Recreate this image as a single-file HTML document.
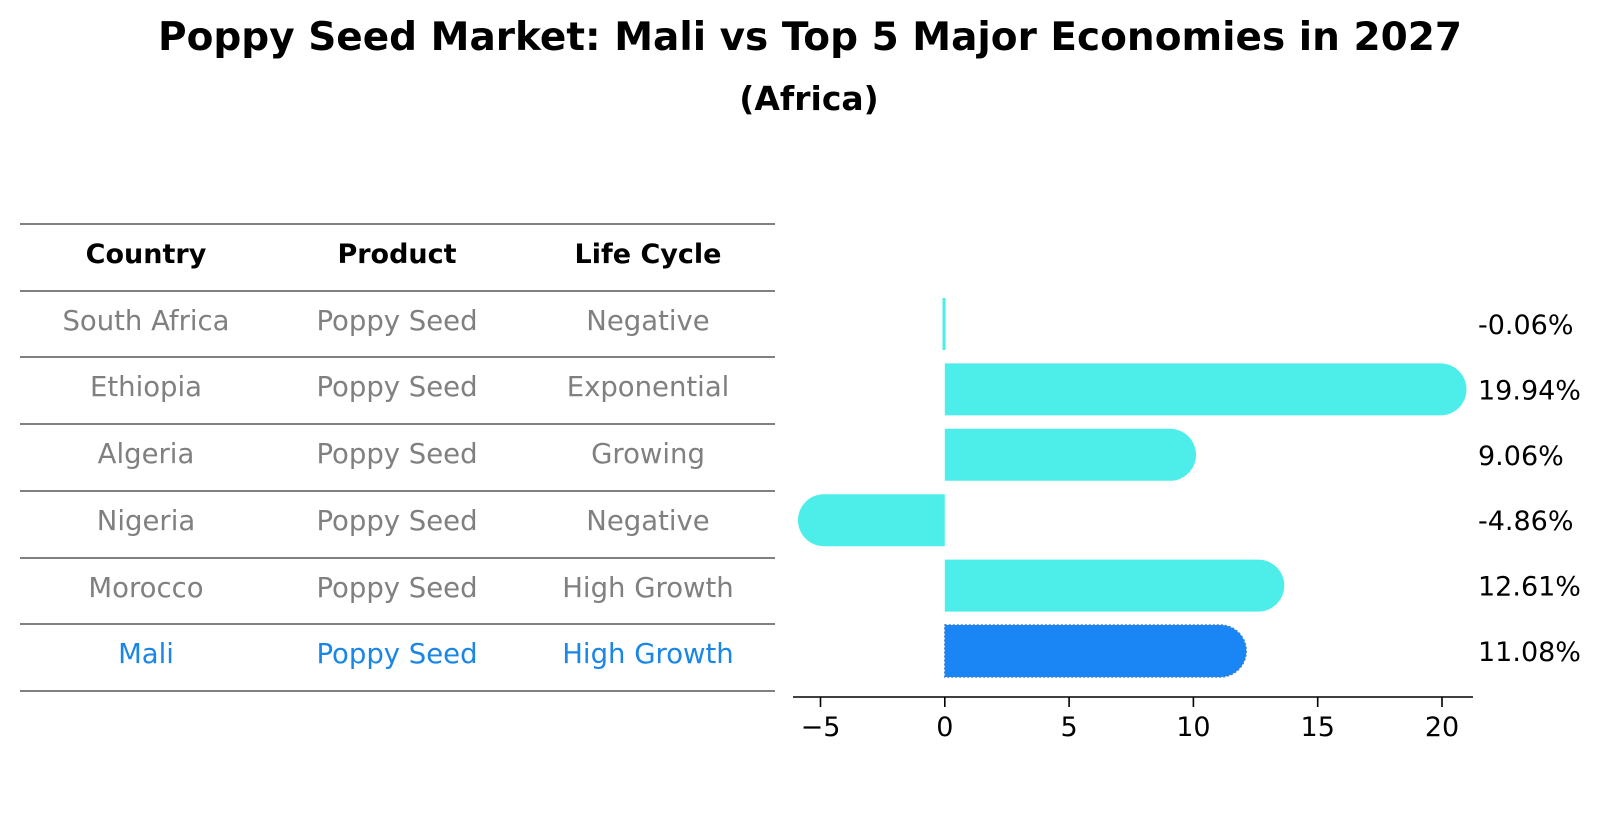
<!DOCTYPE html>
<html><head><meta charset="utf-8"><style>
html,body{margin:0;padding:0;background:#fff;}
svg{display:block;font-family:"DejaVu Sans","Liberation Sans",sans-serif;}
</style></head><body>
<svg id="chart" width="1604" height="823" viewBox="0 0 1604 823" xmlns="http://www.w3.org/2000/svg">
<text x="810" y="50" text-anchor="middle" font-size="39" font-weight="bold" fill="#000">Poppy Seed Market: Mali vs Top 5 Major Economies in 2027</text>
<text x="809" y="110" text-anchor="middle" font-size="33" font-weight="bold" fill="#000">(Africa)</text>
<g id="table"></g>
<g id="bars"></g>
<g id="axis"></g>
</svg>
<script>
const countries = ["South Africa","Ethiopia","Algeria","Nigeria","Morocco","Mali"];
const products = ["Poppy Seed","Poppy Seed","Poppy Seed","Poppy Seed","Poppy Seed","Poppy Seed"];
const lifeCycles = ["Negative","Exponential","Growing","Negative","High Growth","High Growth"];
const growth = [-0.06,19.94,9.06,-4.86,12.61,11.08];
const valueLabels = ["-0.06%","19.94%","9.06%","-4.86%","12.61%","11.08%"];
const tickValues = [-5,0,5,10,15,20];
const tickLabels = ["\u22125","0","5","10","15","20"];
const headers = ["Country","Product","Life Cycle"];

const NS = "http://www.w3.org/2000/svg";
function mk(tag, attrs, parent){const e=document.createElementNS(NS,tag);for(const k in attrs)e.setAttribute(k,attrs[k]);parent.appendChild(e);return e;}

const X0 = 944.8, XS = 24.86;
function xPos(v){return X0 + v*XS;}
const ROW0 = 324, ROWSTEP = 65.4;
function yPos(i){return ROW0 + i*ROWSTEP;}
const BH = 52, R = 26;

const table = document.getElementById('table');
const colX = [146,397,648];
const lineYs = [224,291,357,424,491,558,624,691];
lineYs.forEach((y,i)=>{
  const l = mk('line',{x1:20,x2:775,y1:y,y2:y,stroke:'#000','stroke-width':1},table);
  
  
});
headers.forEach((h,j)=>{
  const t = mk('text',{x:colX[j],y:263,'text-anchor':'middle','font-size':27,'font-weight':'bold',fill:'#000'},table);
  t.textContent=h;
  
  
});
countries.forEach((c,i)=>{
  const color = c==="Mali" ? "#1a86e6" : "#808080";
  const y = lineYs[i+1]+39;
  [c,products[i],lifeCycles[i]].forEach((v,j)=>{
    const t = mk('text',{x:colX[j],y:y,'text-anchor':'middle','font-size':27.5,fill:color},table);
    t.textContent=v;
    
    
  });
});

const bars = document.getElementById('bars');
growth.forEach((v,i)=>{
  const cy = yPos(i), top = cy-BH/2, bot = cy+BH/2;
  const xa = xPos(0), xb = xPos(v);
  const isMali = countries[i]==="Mali";
  const fill = isMali ? "#1a86f5" : "#4deeea";
  let d;
  if(Math.abs(xb-xa) < 8){
    d = `M${Math.min(xa,xb)-0.8},${top}H${Math.max(xa,xb)+0.8}V${bot}H${Math.min(xa,xb)-0.8}Z`;
  } else if(v>=0){
    d = `M${xa},${top}H${xb}A${R},${R} 0 0 1 ${xb},${bot}H${xa}Z`;
  } else {
    d = `M${xa},${top}H${xb}A${R},${R} 0 0 0 ${xb},${bot}H${xa}Z`;
  }
  const p = mk('path',{d:d,fill:fill},bars);
  if(isMali){p.setAttribute('stroke','#3a7fd0');p.setAttribute('stroke-width','1.5');p.setAttribute('stroke-dasharray','2,2');}
  
  
  const t = mk('text',{x:1478,y:cy+10,'font-size':27,fill:'#000'},bars);
  t.textContent = valueLabels[i];
  
  
});

const axis = document.getElementById('axis');
const axY = 697;
const al = mk('line',{x1:793,x2:1473,y1:axY,y2:axY,stroke:'#000','stroke-width':1.6},axis);


tickValues.forEach((v,i)=>{
  const x = xPos(v);
  const tk = mk('line',{x1:x,x2:x,y1:axY,y2:axY+10,stroke:'#000','stroke-width':1.6},axis);
  
  
  const t = mk('text',{x:x,y:axY+39,'text-anchor':'middle','font-size':27,fill:'#000'},axis);
  t.textContent = tickLabels[i];
  
  
});
</script>
</body></html>
